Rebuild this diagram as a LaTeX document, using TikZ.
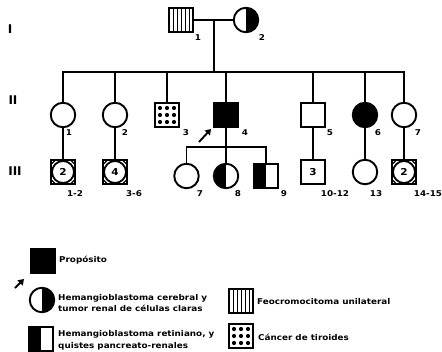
\documentclass[tikz,border=0pt]{standalone}
\usepackage{fontspec}
\setmainfont{DejaVu Sans}
\newfontfamily\wideff[FakeStretch=1.1]{DejaVu Sans}
\usetikzlibrary{arrows.meta}
\begin{document}
\begin{tikzpicture}[x=1pt,y=-1pt,
  conn/.style={line width=1.9pt},
  sym/.style={draw, line width=1.9pt, inner sep=0pt, minimum size=24.5pt, font=\wideff\fontsize{9.5}{10}\selectfont\bfseries},
  male/.style={sym, rectangle},
  female/.style={sym, circle},
  halfright/.style={path picture={\fill (path picture bounding box.north) rectangle (path picture bounding box.south east);}},
  halfleft/.style={path picture={\fill (path picture bounding box.north west) rectangle (path picture bounding box.south);}},
  filled/.style={fill=black},
  stripes/.style={path picture={\foreach \dx in {-8,-4,0,4,8} \draw[line width=0.7pt] ([xshift=\dx pt]path picture bounding box.north) -- ([xshift=\dx pt]path picture bounding box.south);}},
  dots/.style={path picture={\foreach \dx in {-7,0,7} \foreach \dy in {-7,0,7} \fill ([shift={(\dx,\dy)}]path picture bounding box.center) circle (2.1pt);}},
  multi/.style={male, path picture={
     \draw[line width=1.8pt] (path picture bounding box.center) circle (11pt);
     \draw[line width=1.1pt] ([yshift=-5pt]path picture bounding box.north west) -- ([xshift=5pt]path picture bounding box.north west);
     \draw[line width=1.1pt] ([yshift=-5pt]path picture bounding box.north east) -- ([xshift=-5pt]path picture bounding box.north east);
     \draw[line width=1.1pt] ([yshift=5pt]path picture bounding box.south west) -- ([xshift=5pt]path picture bounding box.south west);
     \draw[line width=1.1pt] ([yshift=5pt]path picture bounding box.south east) -- ([xshift=-5pt]path picture bounding box.south east);}},
  lab/.style={inner sep=0pt, font=\wideff\fontsize{8}{9}\selectfont\bfseries},
  gen/.style={inner sep=0pt, font=\fontsize{12}{13}\selectfont\bfseries},
  legtext/.style={inner sep=0pt, anchor=west, align=left, font=\wideff\fontsize{8}{11.8}\selectfont\bfseries},
  parrow/.style={line width=1.9pt, -{Triangle[length=5.5pt,width=7pt]}}
]
\useasboundingbox (0,0) rectangle (442,351);

% generation labels
\node[gen] (gI) at (10,29) {I};
\node[gen] (gII) at (13,100) {II};
\node[gen] (gIII) at (15,171) {III};

% generation I
\node[male, stripes] (I1) at (181,20) {};
\node[female, halfright] (I2) at (246,20) {};
\node[lab] (lI1) at (198,38) {1};
\node[lab] (lI2) at (262,38) {2};
\coordinate (mI) at (214,20);
\coordinate (sI) at (214,72);
\draw[conn] (I1) -- (I2);
\draw[conn] (mI) -- (sI);

% generation II
\node[female] (II1) at (63,115) {};
\node[female] (II2) at (115,115) {};
\node[male, dots] (II3) at (167,115) {};
\node[male, filled] (II4) at (226,115) {};
\node[male] (II5) at (313,115) {};
\node[female, filled] (II6) at (365,115) {};
\node[female] (II7) at (404,115) {};
\foreach \n in {II1,II2,II3,II4,II5,II6,II7} \draw[conn] (sI) -| (\n.north);
\node[lab] (lII1) at (69,133) {1};
\node[lab] (lII2) at (125,133) {2};
\node[lab] (lII3) at (186,133) {3};
\node[lab] (lII4) at (245,133) {4};
\node[lab] (lII5) at (330,133) {5};
\node[lab] (lII6) at (378,133) {6};
\node[lab] (lII7) at (418,133) {7};

% proband arrow
\coordinate (pa) at (199,142);
\coordinate (pah) at (211,129);
\draw[parrow] (pa) -- (pah);

% generation III
\node[multi] (III1) at (63,172) {2};
\node[multi] (III3) at (115,172) {4};
\node[female] (III7) at (186.5,176) {};
\node[female, halfleft] (III8) at (226,176) {};
\node[male, halfleft] (III9) at (266,176) {};
\node[male] (III10) at (313,172) {3};
\node[female] (III13) at (365,172) {};
\node[multi] (III14) at (404,172) {2};
\draw[conn] (II1) -- (III1);
\draw[conn] (II2) -- (III3);
\draw[conn] (II5) -- (III10);
\draw[conn] (II6) -- (III13);
\draw[conn] (II7) -- (III14);
\coordinate (s4) at (226,147);
\draw[conn] (II4) -- (s4);
\foreach \n in {III7,III8,III9} \draw[conn] (s4) -| (\n.north);
\node[lab] (lIII1) at (75,194) {1-2};
\node[lab] (lIII3) at (134,194) {3-6};
\node[lab] (lIII7) at (200,194) {7};
\node[lab] (lIII8) at (238,194) {8};
\node[lab] (lIII9) at (284,194) {9};
\node[lab] (lIII10) at (335,194) {10-12};
\node[lab] (lIII13) at (376,194) {13};
\node[lab] (lIII14) at (428,194) {14-15};

% legend
\node[male, filled] (Lp) at (43,261) {};
\coordinate (Lpa) at (15,288);
\coordinate (Lph) at (24,279);
\draw[parrow] (Lpa) -- (Lph);
\node[legtext] (Lpt) at (59,260) {Propósito};
\node[female, halfright] (Lc) at (42,300) {};
\node[legtext] (Lct) at (58,303) {Hemangioblastoma cerebral y\\tumor renal de células claras};
\node[male, halfleft] (Ls) at (41,339) {};
\node[legtext] (Lst) at (58,340) {Hemangioblastoma retiniano, y\\quistes pancreato-renales};
\node[male, stripes] (Lf) at (241,301) {};
\node[legtext] (Lft) at (257,302) {Feocromocitoma unilateral};
\node[male, dots] (Ld) at (241,336) {};
\node[legtext] (Ldt) at (258,337) {Cáncer de tiroides};
\end{tikzpicture}
\end{document}
